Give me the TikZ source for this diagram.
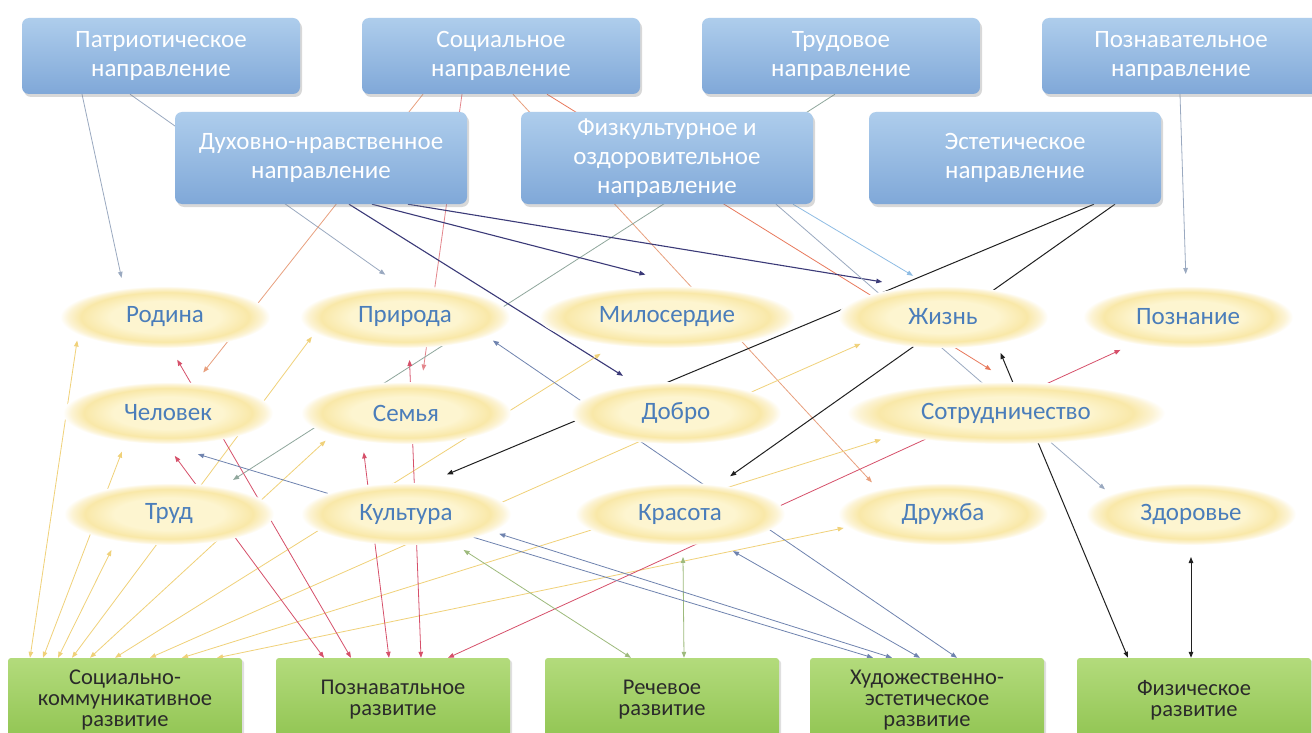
\documentclass[tikz,border=0pt]{standalone}
\usepackage{fontspec}
\setmainfont{Carlito}
\usetikzlibrary{shapes.geometric,arrows.meta,shadows}

\definecolor{naprtop}{HTML}{AECDEC}
\definecolor{naprbot}{HTML}{80A8D8}
\definecolor{razvtop}{HTML}{B3DB7C}
\definecolor{razvbot}{HTML}{90C451}
\definecolor{ellcore}{HTML}{FDF5D0}
\definecolor{ellrim}{HTML}{F9E8A8}
\definecolor{ellfade}{HTML}{FCF3D4}
\definecolor{valtext}{HTML}{4A7DBA}
\definecolor{razvtext}{HTML}{2A2A2A}
\definecolor{lnyel}{HTML}{F0D179}
\definecolor{lnred}{HTML}{D6506A}
\definecolor{lnsal}{HTML}{E8A07E}
\definecolor{lnpink}{HTML}{E4868C}
\definecolor{lnorg}{HTML}{E8795C}
\definecolor{lnnavy}{HTML}{3B3A78}
\definecolor{lnblk}{HTML}{202020}
\definecolor{lnslate}{HTML}{6F83AF}
\definecolor{lngrn}{HTML}{9DBA7C}
\definecolor{lngray}{HTML}{9AA9C0}
\definecolor{lnsky}{HTML}{8EBCE4}
\definecolor{lntrud}{HTML}{8FA79C}

\pgfdeclareradialshading{halo}{\pgfpoint{0bp}{0bp}}{color(0bp)=(ellcore); color(13bp)=(ellcore); color(20bp)=(ellrim); color(23bp)=(ellfade); color(25bp)=(white); color(50bp)=(white)}

\pgfdeclarelayer{background}
\pgfsetlayers{background,main}

\begin{document}
\begin{tikzpicture}[x=1pt,y=-1pt,>={Triangle[length=6pt,width=4.5pt]}]
	\def \rowtop{56}
	\def \rowmid{158}
	\def \rowone{317}
	\def \rowtwo{413}
	\def \rowthree{514}
	\def \basement{700}
	\tikzstyle{napr}=[rectangle,rounded corners=7pt,top color=naprtop,bottom color=naprbot,draw=none,text=white,align=center,minimum width=278pt,minimum height=76pt,inner sep=2pt,drop shadow={opacity=0.3,shadow xshift=2pt,shadow yshift=-3pt},font=\fontsize{25}{29}\selectfont]
	\tikzstyle{napr-mid}=[napr,minimum width=292pt,minimum height=92pt]
	\tikzstyle{cennost}=[ellipse,shade,shading=halo,minimum width=210pt,minimum height=62pt,inner sep=0pt,outer xsep=0pt,outer ysep=12pt,text=valtext,font=\fontsize{25}{28}\selectfont]
	\tikzstyle{razv}=[rectangle,rounded corners=3pt,top color=razvtop,bottom color=razvbot,draw=none,text=razvtext,align=center,minimum width=234pt,minimum height=84pt,inner sep=1pt,drop shadow={opacity=0.25,shadow xshift=2pt,shadow yshift=-2pt},font=\fontsize{22.5}{21}\selectfont]
	\tikzstyle{ln}=[line width=0.8pt]
	\tikzstyle{l-yel}=[ln,draw=lnyel,<->]
	\tikzstyle{l-red}=[ln,draw=lnred,<->]
	\tikzstyle{l-sal}=[ln,draw=lnsal,->]
	\tikzstyle{l-pink}=[ln,draw=lnpink,->]
	\tikzstyle{l-org}=[ln,draw=lnorg,->]
	\tikzstyle{l-navy}=[ln,line width=1.1pt,draw=lnnavy,->]
	\tikzstyle{l-blk}=[ln,line width=1pt,draw=lnblk]
	\tikzstyle{l-slate}=[ln,draw=lnslate,<->]
	\tikzstyle{l-grn}=[ln,draw=lngrn,<->]
	\tikzstyle{l-gray}=[ln,draw=lngray,->]
	\tikzstyle{l-sky}=[ln,draw=lnsky,->]
	\tikzstyle{l-trud}=[ln,draw=lntrud,->]

	\useasboundingbox (0,0) rectangle (1312,733);

	% directions
	\node[napr] 	(patr)	at (161,\rowtop)	{Патриотическое\\направление};
	\node[napr] 	(soc)	at (501,\rowtop)	{Социальное\\направление};
	\node[napr] 	(trud)	at (841,\rowtop)	{Трудовое\\направление};
	\node[napr] 	(pozn)	at (1181,\rowtop)	{Познавательное\\направление};
	\node[napr-mid] 	(dukh)	at (321,\rowmid)	{Духовно-нравственное\\направление};
	\node[napr-mid] 	(fiz)	at (667,\rowmid)	{Физкультурное и\\оздоровительное\\направление};
	\node[napr-mid] 	(est)	at (1015,\rowmid)	{Эстетическое\\направление};

	% values
	\node[cennost] 	(rodina)	at (165,\rowone)	{Родина};
	\node[cennost] 	(priroda)	at (405,\rowone)	{Природа};
	\node[cennost,minimum width=256pt] 	(miloserdie)	at (667,\rowone)	{Милосердие};
	\node[cennost] 	(zhizn)	at (943,\rowone)	{Жизнь};
	\node[cennost] 	(poznanie)	at (1188,\rowone)	{Познание};

	\node[cennost] 	(chelovek)	at (168,\rowtwo)	{Человек};
	\node[cennost] 	(semya)	at (406,\rowtwo)	{Семья};
	\node[cennost] 	(dobro)	at (676,\rowtwo)	{Добро};
	\node[cennost,minimum width=318pt] 	(sotrud)	at (1006,\rowtwo)	{Сотрудничество};

	\node[cennost] 	(trudc)	at (169,\rowthree)	{Труд};
	\node[cennost] 	(kultura)	at (406,\rowthree)	{Культура};
	\node[cennost] 	(krasota)	at (680,\rowthree)	{Красота};
	\node[cennost] 	(druzhba)	at (943,\rowthree)	{Дружба};
	\node[cennost] 	(zdorove)	at (1191,\rowthree)	{Здоровье};

	% development areas
	\node[razv] 	(skr)	at (125,\basement)	{Социально-\\коммуникативное\\развитие};
	\node[razv] 	(pkr)	at (393,\basement)	{Познаватльное\\развитие};
	\node[razv] 	(rr)	at (662,\basement)	{Речевое\\развитие};
	\node[razv] 	(hr)	at (927,\basement)	{Художественно-\\эстетическое\\развитие};
	\node[razv] 	(fr)	at (1194,\basement)	{Физическое\\развитие};

	\begin{pgfonlayer}{background}
	\fill[white] (0,0) rectangle (1312,733);
	\path
		([xshift=-79pt]patr.south)	edge[l-gray]	(rodina.138)
		([xshift=-31pt]patr.south)	edge[l-gray]	(priroda.115)
		([xshift=-78pt]soc.south)	edge[l-sal]	(chelovek.49)
		([xshift=-39pt]soc.south)	edge[l-pink]	(semya.68)
		([xshift=12pt]soc.south)	edge[l-sal]	(druzhba.156)
		([xshift=46pt]soc.south)	edge[l-org]	(sotrud.109)
		([xshift=-6pt]trud.south)	edge[l-trud]	(trudc.28)
		([xshift=-1pt]pozn.south)	edge[l-gray]	(poznanie.93)
		%
		([xshift=28pt]dukh.south)	edge[l-navy]	(dobro.145)
		([xshift=51pt]dukh.south)	edge[l-navy]	(miloserdie.117)
		([xshift=87pt]dukh.south)	edge[l-navy]	(zhizn.150)
		([xshift=126pt]fiz.south)	edge[l-sky]	(zhizn.126)
		([xshift=109pt]fiz.south)	edge[l-gray]	(zdorove.164)
		([xshift=79pt]est.south)	edge[l-blk,->]	(kultura.44)
		([xshift=100pt]est.south)	edge[l-blk,->]	(krasota.37)
		%
		([xshift=-95pt]skr.north)	edge[l-yel]	(rodina.-165)
		([xshift=-82pt]skr.north)	edge[l-yel]	(chelovek.-140)
		([xshift=-67pt]skr.north)	edge[l-yel]	(trudc.-148)
		([xshift=-53pt]skr.north)	edge[l-yel]	(priroda.-168)
		([xshift=-35pt]skr.north)	edge[l-yel]	(semya.-161)
		([xshift=-10pt]skr.north)	edge[l-yel]	(miloserdie.-151)
		([xshift=25pt]skr.north)	edge[l-yel]	(zhizn.-162)
		([xshift=57pt]skr.north)	edge[l-yel]	(sotrud.-168)
		([xshift=92pt]skr.north)	edge[l-yel]	(druzhba.-172)
		%
		([xshift=-42pt]pkr.north)	edge[l-red]	(rodina.-74)
		([xshift=-69pt]pkr.north)	edge[l-red]	(chelovek.-81)
		([xshift=-4pt]pkr.north)	edge[l-red]	(semya.-137)
		([xshift=28pt]pkr.north)	edge[l-red]	(priroda.-84)
		([xshift=55pt]pkr.north)	edge[l-red]	(poznanie.-154)
		%
		([xshift=-31pt]rr.north)	edge[l-grn]	(kultura.-32)
		([xshift=22pt]rr.north)	edge[l-grn]	(krasota.-86)
		%
		([xshift=-54pt]hr.north)	edge[l-slate]	(chelovek.-54)
		([xshift=-35pt]hr.north)	edge[l-slate]	(kultura.-12)
		([xshift=-7pt]hr.north)	edge[l-slate]	(krasota.-35)
		([xshift=30pt]hr.north)	edge[l-slate]	(priroda.-15)
		%
		([xshift=-66pt]fr.north)	edge[l-blk,<->]	(zhizn.-32)
		([xshift=-3pt]fr.north)	edge[l-blk,<->]	(zdorove.south);
	\end{pgfonlayer}
\end{tikzpicture}
\end{document}
